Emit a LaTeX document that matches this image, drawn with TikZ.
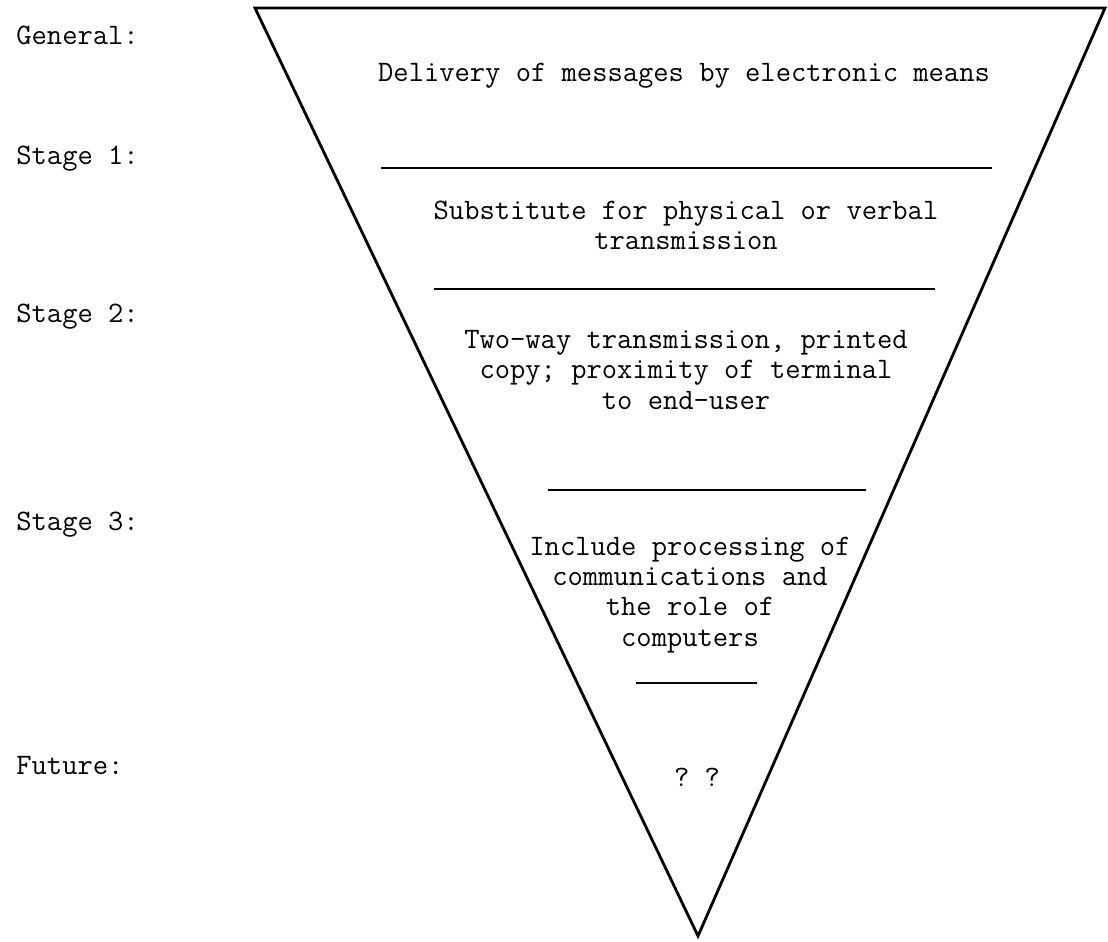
\documentclass[tikz,border=0pt]{standalone}
\usepackage{fontspec}
\setmonofont{Latin Modern Mono}

\begin{document}
\begin{tikzpicture}[x=0.02cm,y=-0.02cm,very thick,line width=1.6pt,
    stagelabel/.style={anchor=base west,inner sep=0pt,font=\ttfamily\fontsize{16.9}{17.2}\selectfont},
    stagetext/.style={align=center,inner sep=0pt,font=\ttfamily\fontsize{16.9}{17.2}\selectfont}]
    \useasboundingbox (0,0) rectangle (1108,941);

    % funnel
    \draw (255,8) -- (1105,8) -- (698,936) -- cycle;

    % Y % 44   164   322   530   774
    \node [stagelabel] (general) at (15,44)  {General:};
    \node [stagelabel] (stage1)  at (15,164) {Stage 1:};
    \node [stagelabel] (stage2)  at (15,322) {Stage 2:};
    \node [stagelabel] (stage3)  at (15,530) {Stage 3:};
    \node [stagelabel] (future)  at (15,774) {Future:};

    \node [stagetext,anchor=base] (delivery) at (684,81) {Delivery of messages by electronic means};
    \node [stagetext] (substitute) at (686,225) {Substitute for physical or verbal\\transmission};
    \node [stagetext] (twoway)     at (686,370) {Two-way transmission, printed\\copy; proximity of terminal\\to end-user};
    \node [stagetext] (include)    at (690,595) {Include processing of\\communications and\\the role of\\computers};
    \node [stagetext,anchor=base] (unknown) at (697,786) {? ?};

    % separators
    \draw (381,168) -- (992,168);
    \draw (434,289) -- (935,289);
    \draw (548,490) -- (866,490);
    \draw (636,683) -- (757,683);
\end{tikzpicture}
\end{document}
